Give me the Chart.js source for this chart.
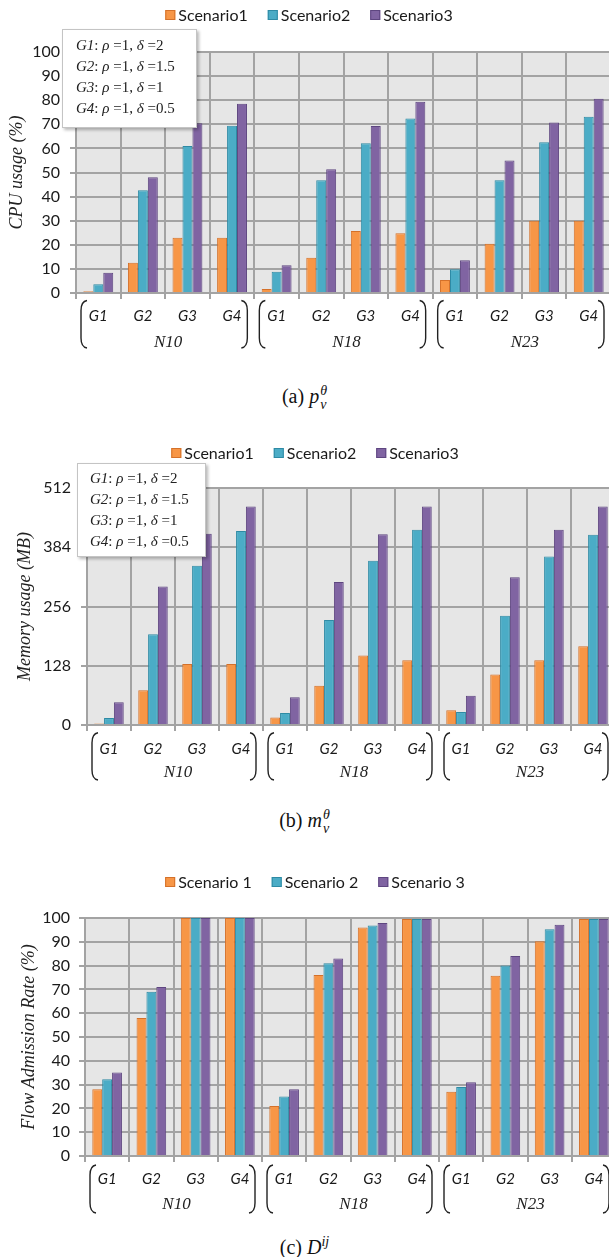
<!DOCTYPE html>
<html><head><meta charset="utf-8">
<script src="https://cdn.jsdelivr.net/npm/chart.js@4.4.1/dist/chart.umd.min.js"></script>
<style>
html,body{margin:0;padding:0;background:#fff;}
body{width:609px;height:1257px;overflow:hidden;position:relative;}
canvas{position:absolute;left:0;}
.inset{position:absolute;background:#fff;border:1px solid #c4c4c4;box-shadow:2px 2px 3px rgba(0,0,0,0.28);font-family:'Liberation Serif',serif;font-size:15px;color:#222;box-sizing:border-box;line-height:21px;white-space:nowrap;z-index:5;}
.cap{position:absolute;left:0;width:609px;text-align:center;font-family:'Liberation Serif',serif;font-size:20px;color:#111;line-height:24px;}
.ss{display:inline-block;vertical-align:-0.4em;line-height:0.95;font-size:14px;text-align:left;margin-left:1px;}
.ss i{display:block;}
</style></head><body>
<canvas id="c1" width="620" height="360" style="top:0px"></canvas>
<canvas id="c2" width="620" height="360" style="top:430px"></canvas>
<canvas id="c3" width="620" height="370" style="top:860px"></canvas>

<div class="inset" style="left:62px;top:29px;width:135px;height:99px;padding:5px 0 0 13px;">
<div><i>G1</i>: <i>ρ</i> =1, <i>δ</i> =2</div>
<div><i>G2</i>: <i>ρ</i> =1, <i>δ</i> =1.5</div>
<div><i>G3</i>: <i>ρ</i> =1, <i>δ</i> =1</div>
<div><i>G4</i>: <i>ρ</i> =1, <i>δ</i> =0.5</div>
</div>
<div class="inset" style="left:77px;top:463px;width:129px;height:94px;padding:4px 0 0 12px;">
<div><i>G1</i>: <i>ρ</i> =1, <i>δ</i> =2</div>
<div><i>G2</i>: <i>ρ</i> =1, <i>δ</i> =1.5</div>
<div><i>G3</i>: <i>ρ</i> =1, <i>δ</i> =1</div>
<div><i>G4</i>: <i>ρ</i> =1, <i>δ</i> =0.5</div>
</div>

<div class="cap" style="top:384px;">(a)&nbsp;<i>p</i><span class="ss"><i>θ</i><i>v</i></span></div>
<div class="cap" style="top:808px;">(b)&nbsp;<i>m</i><span class="ss"><i>θ</i><i>v</i></span></div>
<div class="cap" style="top:1230px;">(c)&nbsp;<i>D</i><sup style="font-size:14px;vertical-align:0.55em;"><i>ij</i></sup></div>

<script>
// ---------------- data ----------------
const categories = ['G1','G2','G3','G4','G1','G2','G3','G4','G1','G2','G3','G4'];
const groupLabels = ['N10','N18','N23'];
const seriesNamesAB = ['Scenario1','Scenario2','Scenario3'];
const seriesNamesC = ['Scenario 1','Scenario 2','Scenario 3'];

const cpuS1 = [0.7, 12.6, 22.9, 22.9, 1.7, 14.6, 25.7, 24.8, 5.4, 20.4, 30, 30];
const cpuS2 = [3.6, 42.6, 61, 69.4, 8.8, 46.8, 62.1, 72.4, 9.9, 46.8, 62.6, 73.1];
const cpuS3 = [8.4, 48, 70.4, 78.5, 11.5, 51.3, 69.3, 79.4, 13.6, 55, 70.7, 80.6];
const cpuTicks = [0,10,20,30,40,50,60,70,80,90,100];

const memS1 = [3.5, 75, 132, 132, 16, 85, 150, 140, 32, 109, 140, 170];
const memS2 = [15, 196, 344, 419, 26, 227, 355, 422, 28, 236, 364, 411];
const memS3 = [49, 299, 413, 472, 60, 309, 412, 472, 63, 319, 422, 472];
const memTicks = [0,128,256,384,512];

const faS1 = [28, 58, 100, 100, 21, 76, 96, 99.6, 27, 75.7, 90.2, 99.6];
const faS2 = [32.2, 69, 100, 100, 25, 81, 96.8, 99.6, 29, 80, 95.3, 99.6];
const faS3 = [35.1, 71, 100, 100, 28, 83, 97.9, 99.6, 31, 84, 97.2, 99.6];
const faTicks = [0,10,20,30,40,50,60,70,80,90,100];

// ---------------- style ----------------
const FILL = ['#F79646','#4BACC6','#8064A2'];
const EDGE = ['#D4712A','#2E8AA4','#5E4680'];
const GRID = '#a3a3a3';
const SANS = 'Lato, "Open Sans", sans-serif';
const SERIF = '"Liberation Serif", "Times New Roman", serif';

const decor = {
  id: 'decor',
  beforeDraw(chart, args, o) {
    const {ctx, chartArea: a} = chart;
    ctx.save();
    ctx.fillStyle = '#e6e6e6';
    ctx.fillRect(a.left, a.top, a.right - a.left, a.bottom - a.top);
    ctx.restore();
  },
  afterDraw(chart, args, o) {
    const {ctx, chartArea: a} = chart;
    ctx.save();
    // legend
    ctx.font = '16px ' + SANS;
    ctx.textBaseline = 'middle';
    const items = chart.data.datasets.map(d => ({t: d.label, f: d.backgroundColor, s: d.borderColor, w: ctx.measureText(d.label).width}));
    const box = 10, gap = 3, sp = 20;
    const total = items.reduce((s, it) => s + box + gap + it.w, 0) + sp * (items.length - 1);
    let x = o.legendX - total / 2;
    items.forEach(it => {
      ctx.fillStyle = it.f;
      ctx.fillRect(x, o.legendY - box / 2, box, box);
      ctx.strokeStyle = it.s; ctx.lineWidth = 1;
      ctx.strokeRect(x + 0.5, o.legendY - box / 2 + 0.5, box - 1, box - 1);
      x += box + gap;
      ctx.fillStyle = '#1a1a1a'; ctx.textAlign = 'left';
      ctx.fillText(it.t, x, o.legendY + 1);
      x += it.w + sp;
    });
    // groups: brackets + N labels
    const n = chart.data.labels.length;
    const per = n / groupLabels.length;
    const cw = (a.right - a.left) / n;
    ctx.strokeStyle = '#222'; ctx.lineWidth = 1.4;
    groupLabels.forEach((g, i) => {
      const cl = a.left + i * per * cw, cr = a.left + (i + 1) * per * cw;
      const l = cl + 5, r = cr - 7;
      const t = a.bottom + o.brTop, b = a.bottom + o.brBot;
      ctx.beginPath();
      ctx.moveTo(l + 6, t); ctx.quadraticCurveTo(l, t + 1, l, t + 10);
      ctx.lineTo(l, b - 10); ctx.quadraticCurveTo(l, b - 1, l + 6, b);
      ctx.stroke();
      ctx.beginPath();
      ctx.moveTo(r - 6, t); ctx.quadraticCurveTo(r, t + 1, r, t + 10);
      ctx.lineTo(r, b - 10); ctx.quadraticCurveTo(r, b - 1, r - 6, b);
      ctx.stroke();
      ctx.font = 'italic 17px ' + SERIF;
      ctx.fillStyle = '#222'; ctx.textAlign = 'center'; ctx.textBaseline = 'middle';
      ctx.fillText(g, (cl + cr) / 2 + 3, a.bottom + o.nY);
    });
    ctx.restore();
  }
};

function makeChart(id, names, series, ticks, yTitle, L) {
  new Chart(document.getElementById(id), {
    type: 'bar',
    data: {
      labels: categories,
      datasets: series.map((s, i) => ({
        label: names[i], data: s,
        backgroundColor: FILL[i], borderColor: EDGE[i], borderWidth: 1,
        categoryPercentage: 0.67, barPercentage: 1.0
      }))
    },
    plugins: [decor],
    options: {
      responsive: false, animation: false, devicePixelRatio: 1,
      layout: {padding: {top: L.top, right: L.right, left: 0, bottom: 0}},
      plugins: {
        legend: {display: false}, tooltip: {enabled: false},
        decor: {legendX: L.legendX, legendY: L.legendY, brTop: L.brTop, brBot: L.brBot, nY: L.nY}
      },
      scales: {
        x: {
          grid: {color: GRID, lineWidth: 2, offset: true, tickLength: 6, drawTicks: true},
          border: {color: GRID, width: 2},
          ticks: {color: '#1a1a1a', font: {family: SANS, size: 15, style: 'italic'}, padding: L.xPad, maxRotation: 0, autoSkip: false},
          afterFit: s => { s.height = L.xH; }
        },
        y: {
          min: ticks[0], max: ticks[ticks.length - 1],
          afterBuildTicks: s => { s.ticks = ticks.map(v => ({value: v})); },
          grid: {color: GRID, lineWidth: 2, tickLength: 6},
          border: {color: GRID, width: 2},
          ticks: {color: '#1a1a1a', font: {family: SANS, size: 16}, padding: L.yPad},
          title: {display: true, text: yTitle, color: '#222', font: {family: SERIF, size: 18, style: 'italic'}, padding: {top: L.tPad, bottom: 0}},
          afterFit: s => { s.width = L.left; }
        }
      }
    }
  });
}

makeChart('c1', seriesNamesAB, [cpuS1, cpuS2, cpuS3], cpuTicks, 'CPU usage (%)',
  {top: 52, right: 9, left: 76, xH: 67, xPad: 8.5, yPad: 10, tPad: 6, legendX: 309, legendY: 15, brTop: 7.5, brBot: 55, nY: 50});
makeChart('c2', seriesNamesAB, [memS1, memS2, memS3], memTicks, 'Memory usage (MB)',
  {top: 58, right: 5, left: 87, xH: 65, xPad: 9.5, yPad: 10, tPad: 14, legendX: 315, legendY: 23, brTop: 7.7, brBot: 55, nY: 48});
makeChart('c3', seriesNamesC, [faS1, faS2, faS3], faTicks, 'Flow Admission Rate (%)',
  {top: 58, right: 4, left: 85, xH: 74, xPad: 8, yPad: 9, tPad: 18, legendX: 315, legendY: 22, brTop: 9, brBot: 57, nY: 49});
</script>
</body></html>
